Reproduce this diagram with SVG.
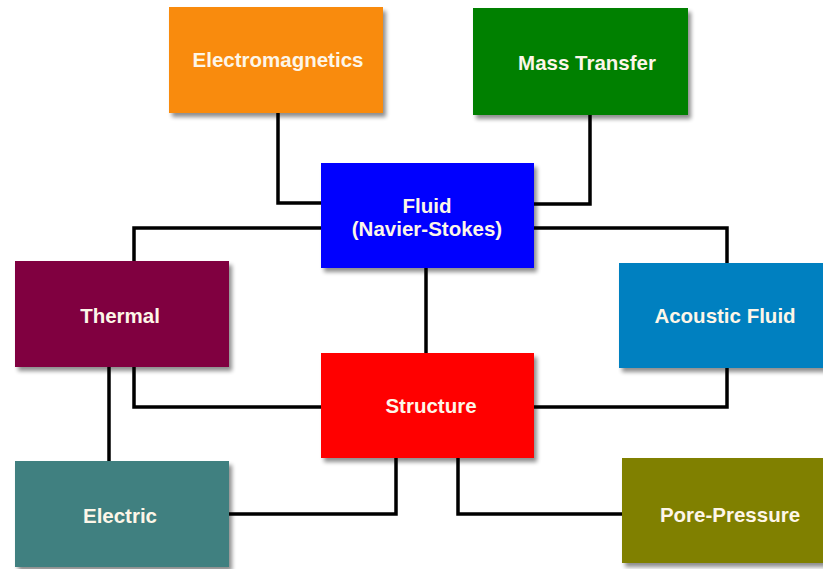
<svg xmlns="http://www.w3.org/2000/svg" width="823" height="569" viewBox="0 0 823 569">
<defs>
<filter id="sh" x="-10%" y="-10%" width="125%" height="130%">
<feGaussianBlur in="SourceAlpha" stdDeviation="2"/>
<feOffset dx="3" dy="4" result="b"/>
<feComponentTransfer><feFuncA type="linear" slope="0.45"/></feComponentTransfer>
<feMerge><feMergeNode/><feMergeNode in="SourceGraphic"/></feMerge>
</filter>
</defs>
<style>
.box{filter:url(#sh)}
.t{font-family:"Liberation Sans",Arial,sans-serif;font-weight:bold;font-size:20.5px;fill:#fdf6e8;text-anchor:middle;dominant-baseline:central}
.c{fill:none;stroke:#000;stroke-width:3.5;stroke-linejoin:miter}
</style>
<rect width="823" height="569" fill="#fff"/>
<g id="connectors">
<path class="c" d="M278 113 V203 H321"/>
<path class="c" d="M590 115 V204 H534"/>
<path class="c" d="M321 228 H134 V261"/>
<path class="c" d="M534 228 H727 V263"/>
<path class="c" d="M426 268 V353"/>
<path class="c" d="M109 367 V461"/>
<path class="c" d="M134 367 V407 H321"/>
<path class="c" d="M727 368 V407 H534"/>
<path class="c" d="M396 458 V514 H229"/>
<path class="c" d="M458 458 V514 H622"/>
</g>
<g id="electromagnetics"><rect class="box" x="169" y="7" width="214" height="106" fill="#f98b0e"/><text class="t" x="278" y="59">Electromagnetics</text></g>
<g id="mass-transfer"><rect class="box" x="473" y="8" width="215" height="107" fill="#008000"/><text class="t" x="587" y="62">Mass Transfer</text></g>
<g id="fluid"><rect class="box" x="321" y="163" width="213" height="105" fill="#0000ff"/><text class="t" x="427" y="205">Fluid</text><text class="t" x="427" y="228">(Navier-Stokes)</text></g>
<g id="thermal"><rect class="box" x="15" y="261" width="214" height="106" fill="#800040"/><text class="t" x="120" y="315">Thermal</text></g>
<g id="acoustic-fluid"><rect class="box" x="619" y="263" width="210" height="105" fill="#0080c0"/><text class="t" x="725" y="315">Acoustic Fluid</text></g>
<g id="structure"><rect class="box" x="321" y="353" width="213" height="105" fill="#ff0000"/><text class="t" x="431" y="405">Structure</text></g>
<g id="electric"><rect class="box" x="15" y="461" width="214" height="106" fill="#408080"/><text class="t" x="120" y="515">Electric</text></g>
<g id="pore-pressure"><rect class="box" x="622" y="458" width="210" height="105" fill="#808000"/><text class="t" x="730" y="514">Pore-Pressure</text></g>
</svg>
